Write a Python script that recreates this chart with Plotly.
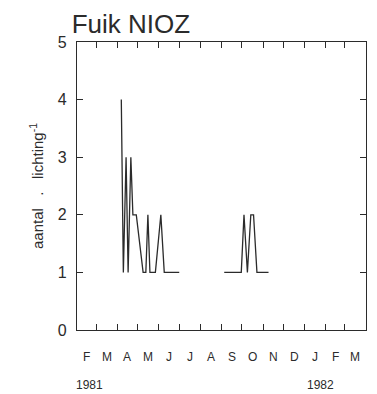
import pandas as pd
import plotly.graph_objects as go

# Catch per haul (aantal . lichting^-1), fyke net NIOZ, 1981 – spring series
spring_dates = [
    "1981-04-07", "1981-04-10", "1981-04-14", "1981-04-17", "1981-04-21",
    "1981-04-24", "1981-04-29", "1981-05-09", "1981-05-13", "1981-05-16",
    "1981-05-19", "1981-05-27", "1981-06-04", "1981-06-09", "1981-06-16",
    "1981-06-23", "1981-07-01",
]
spring_counts = [4, 1, 3, 1, 3, 2, 2, 1, 1, 2, 1, 1, 2, 1, 1, 1, 1]

# Autumn series
autumn_dates = [
    "1981-09-05", "1981-09-15", "1981-09-25", "1981-09-30", "1981-10-04",
    "1981-10-09", "1981-10-14", "1981-10-18", "1981-10-23", "1981-11-02",
    "1981-11-09",
]
autumn_counts = [1, 1, 1, 1, 2, 1, 2, 2, 1, 1, 1]

month_letters = ["F", "M", "A", "M", "J", "J", "A", "S", "O", "N", "D", "J", "F", "M"]
year_labels = ["1981", "1982"]
year_label_dates = ["1981-02-20", "1982-01-24"]
y_ticks = [0, 1, 2, 3, 4, 5]

x_start, x_end = "1981-02-01", "1982-04-01"
month_starts = pd.date_range(x_start, x_end, freq="MS")
month_edges = [d.strftime("%Y-%m-%d") for d in month_starts[1:-1]]
month_mids = [(a + (b - a) / 2).strftime("%Y-%m-%d %H:%M")
              for a, b in zip(month_starts[:-1], month_starts[1:])]

ink = "#2b2b2b"
font = "Liberation Sans, Arial, sans-serif"
line_style = dict(color=ink, width=1.3)

fig = go.Figure()
# Spring on the bottom/left axes, autumn on the top/right frame axes (same ranges)
fig.add_trace(go.Scatter(x=spring_dates, y=spring_counts, mode="lines",
                         line=line_style, showlegend=False, xaxis="x", yaxis="y"))
fig.add_trace(go.Scatter(x=autumn_dates, y=autumn_counts, mode="lines",
                         line=line_style, showlegend=False, xaxis="x2", yaxis="y2"))

fig.update_layout(
    width=377, height=394,
    margin=dict(l=77, r=11, t=42, b=64),
    paper_bgcolor="white", plot_bgcolor="white",
    font=dict(family=font, color=ink),
    title=dict(text="Fuik NIOZ", x=0.19, xanchor="left", y=0.94, yanchor="middle",
               font=dict(size=26, color=ink)),
)

tick_style = dict(ticks="inside", ticklen=6, tickwidth=1.4, tickcolor=ink,
                  showgrid=False, zeroline=False, automargin=False,
                  showline=True, linecolor=ink, linewidth=1.3)

fig.update_layout(
    xaxis=dict(type="date", range=[x_start, x_end], anchor="y",
               tickmode="array", tickvals=month_edges, showticklabels=False,
               **tick_style),
    xaxis2=dict(type="date", range=[x_start, x_end], overlaying="x", side="top",
                anchor="y2", tickmode="array", tickvals=month_edges,
                showticklabels=False, **tick_style),
    yaxis=dict(range=[0, 5], anchor="x", tickmode="array", tickvals=y_ticks,
               tickfont=dict(size=16, color=ink), ticklabelstandoff=6,
               title=dict(text="aantal   .   lichting<sup>-1</sup>", standoff=10,
                          font=dict(size=15, color=ink)),
               **tick_style),
    yaxis2=dict(range=[0, 5], overlaying="y", side="right", anchor="x2",
                tickmode="array", tickvals=y_ticks, showticklabels=False,
                **tick_style),
)

# Month initials centred in each month
for letter, mid in zip(month_letters, month_mids):
    fig.add_annotation(x=mid, xref="x", y=-0.095, yref="paper",
                       text=letter, showarrow=False,
                       font=dict(size=12, color=ink), xanchor="center", yanchor="middle")

# Year markers under the month letters
for label, day in zip(year_labels, year_label_dates):
    fig.add_annotation(x=day, xref="x", y=-0.19, yref="paper",
                       text=label, showarrow=False,
                       font=dict(size=12, color=ink), xanchor="center", yanchor="middle")

fig.write_html("out.html")
